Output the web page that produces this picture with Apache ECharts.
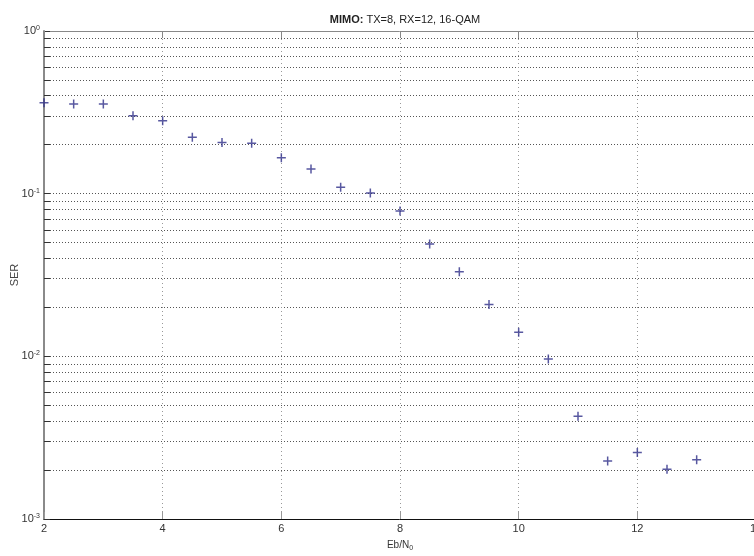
<!DOCTYPE html>
<html>
<head>
<meta charset="utf-8">
<script src="https://cdn.jsdelivr.net/npm/echarts@6/dist/echarts.min.js"></script>
<style>
  html, body { margin: 0; padding: 0; background: #fff; }
  #chart { width: 754px; height: 556px; }
</style>
</head>
<body>
<div id="chart"></div>
<script>
// Eb/N0 (dB) sample points
const ebn0 = [2, 2.5, 3, 3.5, 4, 4.5, 5, 5.5, 6, 6.5, 7, 7.5, 8, 8.5, 9, 9.5, 10, 10.5, 11, 11.5, 12, 12.5, 13];
// Simulated symbol error rate
const ser = [0.362, 0.356, 0.356, 0.3015, 0.281, 0.222, 0.206, 0.204, 0.1665, 0.1418, 0.1094, 0.101,
             0.0782, 0.049, 0.0331, 0.0208, 0.01405, 0.00963, 0.00428, 0.00227, 0.00256, 0.00202, 0.00231];
// Axis ticks
const xTicks = [2, 4, 6, 8, 10, 12, 14];
const yDecades = [0.001, 0.01, 0.1, 1];
const yAllTicks = [];
for (let d = -3; d < 0; d++) {
  for (let m = 1; m <= 9; m++) yAllTicks.push(+(m * Math.pow(10, d)).toPrecision(3));
}
yAllTicks.push(1);

const FONT = "'Liberation Sans', Arial, sans-serif";
const plus = 'path://M7.5,0h3v7.5h7.5v3h-7.5v7.5h-3v-7.5h-7.5v-3h7.5z';

const chart = echarts.init(document.getElementById('chart'));
chart.setOption({
  backgroundColor: '#fff',
  animation: false,
  title: {
    text: '{b|MIMO:} TX=8, RX=12, 16-QAM',
    left: 400, top: 9, textAlign: 'center',
    textStyle: {
      fontFamily: FONT, fontSize: 11, color: '#222', fontWeight: 'normal',
      rich: { b: { fontFamily: FONT, fontSize: 11, fontWeight: 'bold', color: '#222' } }
    }
  },
  grid: { left: 44, top: 31, width: 712, height: 488, containLabel: false, outerBoundsMode: 'none' },
  xAxis: [{
    type: 'value', min: 2, max: 14, interval: 2, position: 'bottom',
    axisLabel: { customValues: xTicks, fontFamily: FONT, fontSize: 11, color: '#333', margin: 4 },
    name: 'Eb/N{s|0}', nameLocation: 'middle', nameGap: 20, nameMoveOverlap: false,
    nameTextStyle: {
      fontFamily: FONT, fontSize: 10, color: '#333',
      rich: { s: { fontFamily: FONT, fontSize: 7, color: '#333', verticalAlign: 'bottom', padding: [6, 0, 0, 0] } }
    },
    axisLine: { show: true, lineStyle: { color: '#111', width: 1 } },
    axisTick: { show: true, inside: true, length: 7, lineStyle: { color: '#999' } },
    splitLine: { show: true, lineStyle: { color: '#999', type: [1, 3], width: 1 } }
  }, {
    type: 'value', min: 2, max: 14, interval: 2, position: 'top',
    axisLine: { show: true, lineStyle: { color: '#888', width: 1 } },
    axisTick: { show: true, inside: true, length: 7, lineStyle: { color: '#888' } },
    axisLabel: { show: false },
    splitLine: { show: false }
  }],
  yAxis: {
    type: 'log', logBase: 10, min: 0.001, max: 1,
    name: 'SER', nameLocation: 'middle', nameGap: 24, nameRotate: 90, nameMoveOverlap: false,
    nameTextStyle: { fontFamily: FONT, fontSize: 11, color: '#444' },
    axisLine: { show: true, lineStyle: { color: '#8a8a8a', width: 2 } },
    axisTick: { show: true, inside: true, length: 6, customValues: yAllTicks, lineStyle: { color: '#333' } },
    axisLabel: {
      customValues: yDecades, margin: 4,
      formatter: v => '{b|10}{s|' + Math.round(Math.log10(v)) + '}',
      rich: {
        b: { fontFamily: FONT, fontSize: 11, color: '#333' },
        s: { fontFamily: FONT, fontSize: 7, color: '#333', verticalAlign: 'top', padding: [0, 0, 6, 0] }
      }
    },
    splitLine: { show: true, lineStyle: { color: '#555', type: [1, 2], width: 1 } }
  },
  series: [{
    type: 'scatter',
    data: ebn0.map((x, i) => [x, ser[i]]),
    symbol: plus, symbolSize: 9,
    itemStyle: { color: '#2e2e88' },
    clip: false
  }]
});
</script>
</body>
</html>
